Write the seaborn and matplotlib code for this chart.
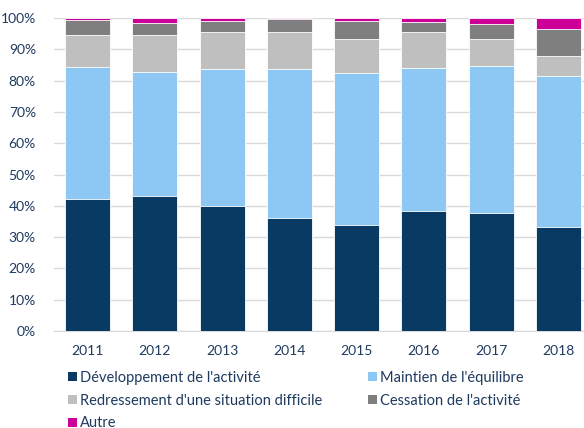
import matplotlib
matplotlib.use("Agg")
import matplotlib.pyplot as plt
from matplotlib.patches import Patch
from matplotlib.ticker import PercentFormatter
import numpy as np
import pandas as pd
import seaborn as sns

# Data (share of each category per year, in %)
years = ['2011', '2012', '2013', '2014', '2015', '2016', '2017', '2018']
developpement = [42.2, 43.2, 39.9, 36.1, 33.9, 38.3, 37.8, 33.3]
maintien = [42.0, 39.4, 43.9, 47.6, 48.4, 45.6, 46.8, 48.3]
redressement = [10.5, 12.1, 11.7, 11.8, 10.9, 11.6, 8.7, 6.4]
cessation = [4.8, 3.7, 3.4, 4.1, 5.8, 3.1, 4.8, 8.5]
autre = [0.5, 1.6, 1.1, 0.4, 1.0, 1.4, 1.9, 3.5]

labels = ["Développement de l'activité", "Maintien de l'équilibre",
          "Redressement d'une situation difficile", "Cessation de l'activité",
          "Autre"]
colors = ['#093A63', '#8DC8F5', '#BFBFBF', '#7F7F7F', '#CC0099']
text_color = '#1F3A5F'

sns.set_style("white")
plt.rcParams['font.family'] = ['Lato', 'DejaVu Sans']

df = pd.DataFrame({'year': years,
                   labels[0]: developpement,
                   labels[1]: maintien,
                   labels[2]: redressement,
                   labels[3]: cessation,
                   labels[4]: autre})
cum = df[labels].cumsum(axis=1)
cum['year'] = years

fig = plt.figure(figsize=(5.84, 4.28), dpi=100)
ax = fig.add_axes([54 / 584, 97 / 428, 538 / 584, 313 / 428])

# draw the tallest cumulative layer first, then the lower ones on top
for lab, col in reversed(list(zip(labels, colors))):
    sns.barplot(data=cum, x='year', y=lab, color=col, width=0.67,
                edgecolor='white', linewidth=0.6, saturation=1, ax=ax, zorder=3)

ax.set_xlim(-0.5, 7.5)
ax.set_ylim(0, 100)
ax.set_yticks(np.arange(0, 101, 10))
ax.yaxis.set_major_formatter(PercentFormatter(decimals=0))
ax.set_xlabel('')
ax.set_ylabel('')
ax.grid(axis='y', color='#D9D9D9', linewidth=1, zorder=0)
ax.set_axisbelow(True)
for s in ['top', 'right', 'left']:
    ax.spines[s].set_visible(False)
ax.spines['bottom'].set_color('#D9D9D9')
ax.tick_params(axis='y', length=0, pad=13, labelsize=10, labelcolor=text_color)
ax.tick_params(axis='x', length=0, pad=10, labelsize=10, labelcolor=text_color)

handles = [Patch(facecolor=c, edgecolor='none') for c in colors]
leg_kw = dict(loc='upper left', frameon=False, handlelength=0.6,
              handleheight=0.6, handletextpad=0.25, labelspacing=0.6,
              fontsize=10.5, labelcolor=text_color, borderaxespad=0)
order = [0, 2, 4]
leg1 = fig.legend([handles[i] for i in order], [labels[i] for i in order],
                  bbox_to_anchor=(62 / 584, 1 - 365 / 428), **leg_kw)
order = [1, 3]
leg2 = fig.legend([handles[i] for i in order], [labels[i] for i in order],
                  bbox_to_anchor=(362 / 584, 1 - 365 / 428), **leg_kw)

fig.savefig('out.png', dpi=100)
